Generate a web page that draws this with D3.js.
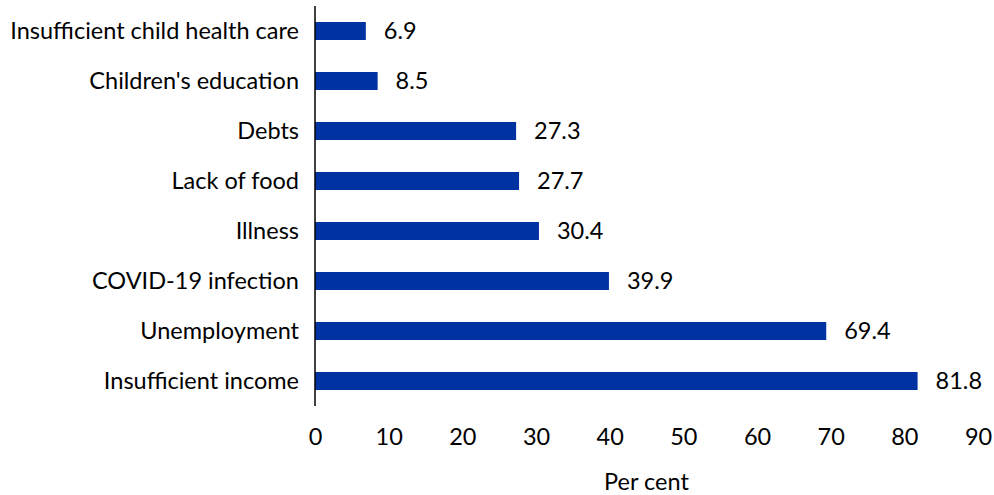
<!DOCTYPE html>
<html>
<head>
<meta charset="utf-8">
<script src="https://cdn.jsdelivr.net/npm/d3@7"></script>
<style>
  html, body { margin: 0; padding: 0; background: #fff; }
  svg text { font-family: Lato, "Open Sans", sans-serif; fill: #000; font-weight: 400; }
</style>
</head>
<body>
<svg id="chart" width="994" height="495"></svg>
<script>
// Reasons reported, share of respondents (per cent)
const categories = [
  "Insufficient child health care",
  "Children's education",
  "Debts",
  "Lack of food",
  "Illness",
  "COVID-19 infection",
  "Unemployment",
  "Insufficient income"
];
const values = [6.9, 8.5, 27.3, 27.7, 30.4, 39.9, 69.4, 81.8];
const xTicks = [0, 10, 20, 30, 40, 50, 60, 70, 80, 90];
const xTitle = "Per cent";

const data = categories.map((c, i) => ({ category: c, value: values[i] }));

const svg = d3.select("#chart");
const fontSize = 23.5;

const x = d3.scaleLinear().domain([0, 90]).range([315, 978]);
const y = d3.scaleBand().domain(categories).range([6, 406]).paddingInner(0.64).paddingOuter(0.32);

// bars
svg.append("g").selectAll("rect")
  .data(data)
  .join("rect")
  .attr("x", x(0))
  .attr("y", d => y(d.category))
  .attr("width", d => x(d.value) - x(0))
  .attr("height", y.bandwidth())
  .attr("fill", "#0033a1");

// value labels
svg.append("g").selectAll("text")
  .data(data)
  .join("text")
  .attr("x", d => x(d.value) + 18)
  .attr("y", d => y(d.category) + y.bandwidth() / 2)
  .attr("dy", "0.36em")
  .style("font-size", fontSize + "px")
  .text(d => d.value.toFixed(1));

// category axis
const yAxis = svg.append("g")
  .attr("transform", `translate(${x(0)},0)`)
  .call(d3.axisLeft(y).tickSize(0).tickPadding(16));
yAxis.select(".domain").remove();
yAxis.append("line")
  .attr("x1", 0).attr("x2", 0)
  .attr("y1", 6).attr("y2", 406)
  .attr("stroke", "#000").attr("stroke-width", 1.5);
yAxis.selectAll("text")
  .style("font-size", fontSize + "px")
  .style("font-family", "Lato, 'Open Sans', sans-serif")
  .attr("fill", "#000");

// value axis
const xAxis = svg.append("g")
  .attr("transform", "translate(0,406)")
  .call(d3.axisBottom(x).tickValues(xTicks).tickSize(0).tickPadding(22).tickFormat(d3.format("d")));
xAxis.select(".domain").remove();
xAxis.selectAll("text")
  .style("font-size", fontSize + "px")
  .style("font-family", "Lato, 'Open Sans', sans-serif")
  .attr("fill", "#000");

svg.append("text")
  .attr("x", (x(0) + x(90)) / 2)
  .attr("y", 490)
  .attr("text-anchor", "middle")
  .style("font-size", fontSize + "px")
  .text(xTitle);
</script>
</body>
</html>
